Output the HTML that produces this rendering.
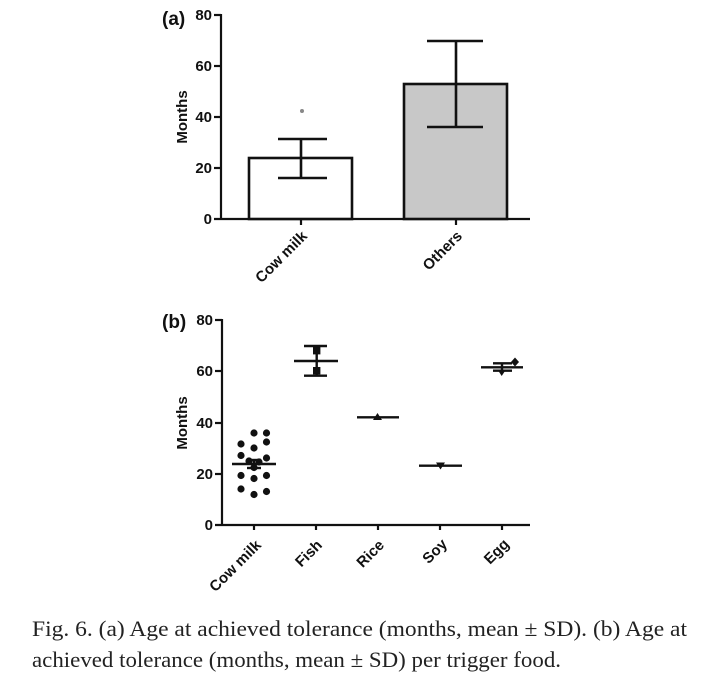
<!DOCTYPE html>
<html><head><meta charset="utf-8"><style>
html,body{margin:0;padding:0;background:#fff;}
svg{display:block;}
</style></head><body>
<svg width="712" height="677" viewBox="0 0 712 677" xmlns="http://www.w3.org/2000/svg">
<rect width="712" height="677" fill="#fff"/>
<g font-family="Liberation Sans, Arial, sans-serif" font-weight="bold" fill="#111">
<!-- Panel (a) -->
<text x="162" y="25" font-size="19">(a)</text>
<g stroke="#111" stroke-width="2.2" fill="none">
  <line x1="221" y1="14" x2="221" y2="220"/>
  <line x1="214" y1="219" x2="530" y2="219"/>
  <line x1="214" y1="15" x2="221" y2="15"/>
  <line x1="214" y1="66" x2="221" y2="66"/>
  <line x1="214" y1="117" x2="221" y2="117"/>
  <line x1="214" y1="168" x2="221" y2="168"/>
  <line x1="301" y1="219" x2="301" y2="225"/>
  <line x1="456" y1="219" x2="456" y2="225"/>
</g>
<g font-size="15" text-anchor="end">
  <text x="212" y="20">80</text>
  <text x="212" y="71">60</text>
  <text x="212" y="122">40</text>
  <text x="212" y="173">20</text>
  <text x="212" y="224">0</text>
</g>
<text transform="translate(187,117) rotate(-90)" font-size="15" text-anchor="middle">Months</text>
<rect x="249" y="158" width="103" height="61" fill="#fff" stroke="#111" stroke-width="2.6"/>
<rect x="404" y="84" width="103" height="135" fill="#c8c8c8" stroke="#111" stroke-width="2.6"/>
<g stroke="#111" stroke-width="2.6">
  <line x1="301" y1="139" x2="301" y2="178"/>
  <line x1="278" y1="139" x2="327" y2="139"/>
  <line x1="278" y1="178" x2="327" y2="178"/>
  <line x1="456" y1="41" x2="456" y2="127"/>
  <line x1="427" y1="41" x2="483" y2="41"/>
  <line x1="427" y1="127" x2="483" y2="127"/>
</g>
<circle cx="302" cy="111" r="2" fill="#888"/>
<g font-size="15" text-anchor="end">
  <text transform="translate(308,237) rotate(-45)">Cow milk</text>
  <text transform="translate(463,237) rotate(-45)">Others</text>
</g>

<!-- Panel (b) -->
<text x="162" y="328" font-size="19">(b)</text>
<g stroke="#111" stroke-width="2.2" fill="none">
  <line x1="222" y1="319" x2="222" y2="526"/>
  <line x1="215" y1="525" x2="530" y2="525"/>
  <line x1="215" y1="320" x2="222" y2="320"/>
  <line x1="215" y1="371" x2="222" y2="371"/>
  <line x1="215" y1="423" x2="222" y2="423"/>
  <line x1="215" y1="474" x2="222" y2="474"/>
  <line x1="254" y1="525" x2="254" y2="530"/>
  <line x1="316" y1="525" x2="316" y2="530"/>
  <line x1="378" y1="525" x2="378" y2="530"/>
  <line x1="440" y1="525" x2="440" y2="530"/>
  <line x1="502" y1="525" x2="502" y2="530"/>
</g>
<g font-size="15" text-anchor="end">
  <text x="213" y="325">80</text>
  <text x="213" y="376">60</text>
  <text x="213" y="428">40</text>
  <text x="213" y="479">20</text>
  <text x="213" y="530">0</text>
</g>
<text transform="translate(187,423) rotate(-90)" font-size="15" text-anchor="middle">Months</text>

<!-- cow milk dots -->
<g fill="#111">
  <circle cx="254" cy="433" r="3.6"/><circle cx="266.5" cy="433" r="3.6"/>
  <circle cx="241" cy="444" r="3.6"/><circle cx="266.5" cy="442" r="3.6"/>
  <circle cx="254" cy="448" r="3.6"/>
  <circle cx="241" cy="455.5" r="3.6"/><circle cx="266.5" cy="458" r="3.6"/>
  <circle cx="249" cy="461" r="3.6"/><circle cx="259" cy="462" r="3.6"/>
  <circle cx="254" cy="467.5" r="3.6"/>
  <circle cx="241" cy="475.5" r="3.6"/><circle cx="266.5" cy="475.5" r="3.6"/>
  <circle cx="254" cy="478.5" r="3.6"/>
  <circle cx="241" cy="489" r="3.6"/><circle cx="266.5" cy="491.5" r="3.6"/>
  <circle cx="254" cy="494.5" r="3.6"/>
</g>
<g stroke="#111" stroke-width="2.4">
  <line x1="232" y1="464" x2="276" y2="464"/>
  <line x1="254" y1="460" x2="254" y2="468"/>
  <line x1="247" y1="460" x2="261" y2="460"/>
  <line x1="247" y1="468" x2="261" y2="468"/>
  <!-- fish -->
  <line x1="316.7" y1="346" x2="316.7" y2="375.7"/>
  <line x1="304" y1="346" x2="327" y2="346"/>
  <line x1="304" y1="375.7" x2="327" y2="375.7"/>
  <line x1="294" y1="361" x2="338" y2="361"/>
  <!-- rice -->
  <line x1="357" y1="417.3" x2="399" y2="417.3"/>
  <!-- soy -->
  <line x1="419" y1="465.7" x2="462" y2="465.7"/>
  <!-- egg -->
  <line x1="481" y1="367.3" x2="523" y2="367.3"/>
  <line x1="493" y1="363.3" x2="512" y2="363.3"/>
  <line x1="493" y1="370.7" x2="512" y2="370.7"/>
  <line x1="502" y1="363.3" x2="502" y2="370.7"/>
</g>
<g fill="#111">
  <rect x="313" y="347" width="7.4" height="7.4"/>
  <rect x="313" y="367" width="7.4" height="7.4"/>
  <polygon points="377.5,413 382,420 373,420"/>
  <polygon points="436,462.5 445,462.5 440.5,469.5"/>
  <polygon points="515,357.5 519,362 515,366.5 511,362"/>
  <polygon points="497.5,369.5 506,369.5 501.7,376"/>
</g>
<g font-size="15" text-anchor="end">
  <text transform="translate(262,546) rotate(-45)">Cow milk</text>
  <text transform="translate(323,546) rotate(-45)">Fish</text>
  <text transform="translate(385,546) rotate(-45)">Rice</text>
  <text transform="translate(448,545) rotate(-45)">Soy</text>
  <text transform="translate(510,545) rotate(-45)">Egg</text>
</g>
</g>

<!-- caption -->
<g font-family="Liberation Serif, Times New Roman, serif" font-size="22.5" fill="#222">
  <text x="32" y="636" textLength="655" lengthAdjust="spacingAndGlyphs">Fig. 6. (a) Age at achieved tolerance (months, mean ± SD). (b) Age at</text>
  <text x="32" y="667" textLength="529" lengthAdjust="spacingAndGlyphs">achieved tolerance (months, mean ± SD) per trigger food.</text>
</g>
</svg>
</body></html>
